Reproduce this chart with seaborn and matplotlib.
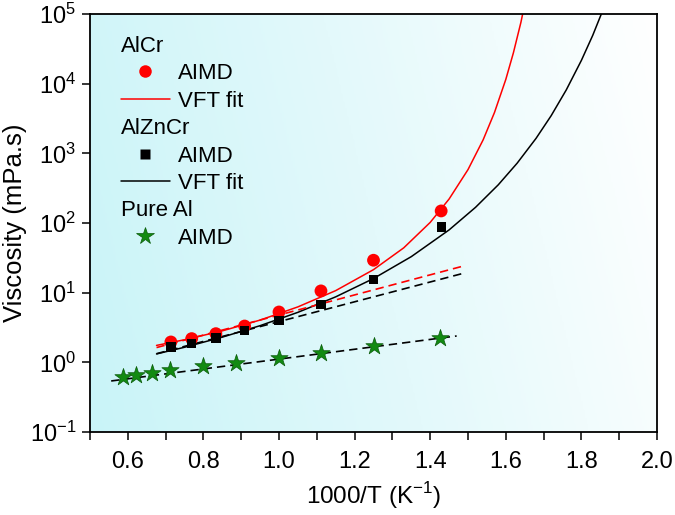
import numpy as np
import pandas as pd
import matplotlib
matplotlib.use('Agg')
import matplotlib.pyplot as plt
import seaborn as sns
from matplotlib.lines import Line2D
from matplotlib.colors import LinearSegmentedColormap
from matplotlib.ticker import FixedLocator, MultipleLocator, NullLocator

# AIMD viscosities (mPa.s) against 1000/T (K^-1)
x_alloy = [0.714, 0.769, 0.833, 0.909, 1.0, 1.111, 1.25, 1.429]
visc_alcr = [1.96, 2.19, 2.58, 3.32, 5.28, 10.6, 29.2, 149]
visc_alzncr = [1.66, 1.85, 2.23, 2.88, 4.01, 6.75, 15.6, 88]
x_al = [0.586, 0.623, 0.663, 0.712, 0.800, 0.886, 1.0, 1.111, 1.25, 1.426]
visc_al = [0.615, 0.665, 0.711, 0.767, 0.877, 0.99, 1.17, 1.36, 1.70, 2.26]

# VFT fit curves
x_vft_alcr = [0.676, 0.75, 0.85, 0.95, 1.05, 1.15, 1.25, 1.33, 1.40,
              1.45, 1.50, 1.54, 1.57, 1.60, 1.62, 1.64, 1.66]
y_vft_alcr = [1.75, 2.11, 2.83, 4.04, 6.25, 10.7, 21.4, 44.0, 102,
              221, 584, 1560, 3850, 11500, 27600, 76000, 253000]
x_vft_alzncr = [0.676, 0.75, 0.85, 0.95, 1.05, 1.15, 1.25, 1.35, 1.45,
                1.52, 1.58, 1.63, 1.68, 1.72, 1.76, 1.80, 1.83, 1.86]
y_vft_alzncr = [1.32, 1.645, 2.30, 3.36, 5.22, 8.71, 15.95, 32.9, 79.6,
                168, 353, 722, 1640, 3470, 8140, 21600, 49400, 125500]

# Arrhenius fits (dashed), end points
x_arr_alcr = [0.676, 1.485]
y_arr_alcr = [1.63, 23.9]
x_arr_alzncr = [0.676, 1.485]
y_arr_alzncr = [1.33, 18.8]
x_arr_al = [0.556, 1.47]
y_arr_al = [0.54, 2.39]

sns.set_theme(style='white')
plt.rcParams['font.family'] = ['Liberation Sans', 'DejaVu Sans']
plt.rcParams['mathtext.fontset'] = 'custom'
plt.rcParams['mathtext.rm'] = 'Liberation Sans'
for k in ['text.color', 'axes.labelcolor', 'xtick.color', 'ytick.color']:
    plt.rcParams[k] = 'black'

fig = plt.figure(figsize=(6.75, 5.15), dpi=100)
ax = fig.add_axes([90/675, 1 - 432/515, 567/675, 418/515])

# background gradient: light cyan on the left fading to white
cmap = LinearSegmentedColormap.from_list('bg', ['#c9f4f8', '#e3f9fb', '#ffffff'])
gx, gy = np.meshgrid(np.linspace(0, 1, 300), np.linspace(0, 1, 200))
grad = np.clip(0.85 * gx + 0.15 * gy, 0, 1)
ax.imshow(grad, cmap=cmap, extent=[0, 1, 0, 1], transform=ax.transAxes,
          aspect='auto', origin='lower', zorder=0, interpolation='bilinear')

green = '#128a12'

sns.lineplot(x=x_vft_alcr, y=y_vft_alcr, color='red', lw=1.1, ax=ax,
             sort=False, estimator=None, zorder=2)
sns.lineplot(x=x_vft_alzncr, y=y_vft_alzncr, color='black', lw=1.1, ax=ax,
             sort=False, estimator=None, zorder=2)
for xs, ys, c in [(x_arr_alcr, y_arr_alcr, 'red'),
                  (x_arr_alzncr, y_arr_alzncr, 'black'),
                  (x_arr_al, y_arr_al, 'black')]:
    sns.lineplot(x=xs, y=ys, color=c, lw=1.2, linestyle=(0, (5, 3)), ax=ax,
                 sort=False, estimator=None, zorder=2)

sns.scatterplot(x=x_alloy, y=visc_alcr, marker='o', s=85, color='red',
                edgecolor='none', ax=ax, zorder=4)
sns.scatterplot(x=x_alloy, y=visc_alzncr, marker='s', s=45, color='black',
                edgecolor='none', ax=ax, zorder=4)
sns.scatterplot(x=x_al, y=visc_al, marker='*', s=170, color=green,
                edgecolor='#0a5a0a', linewidth=0.5, ax=ax, zorder=4)

ax.set_yscale('log')
ax.set_xlim(0.5, 2.0)
ax.set_ylim(1e-1, 1e5)
ax.xaxis.set_major_locator(MultipleLocator(0.2))
ax.xaxis.set_minor_locator(MultipleLocator(0.1))
ax.yaxis.set_major_locator(FixedLocator([10.0**k for k in range(-1, 6)]))
ax.yaxis.set_minor_locator(NullLocator())
ax.tick_params(which='both', direction='out', length=6, width=1.1,
               labelsize=17, bottom=True, left=True,
               top=False, right=False, pad=4)
ax.tick_params(axis='x', pad=8)
for sp in ax.spines.values():
    sp.set_color('black')
    sp.set_linewidth(1.3)

ax.set_xlabel('1000/T (K$^{-1}$)', fontsize=17.5, labelpad=5)
ax.set_ylabel('Viscosity (mPa.s)', fontsize=18.5, labelpad=2)

# grouped legend
blank = Line2D([], [], linestyle='none')
handles = [
    blank,
    Line2D([], [], linestyle='none', marker='o', color='red', ms=9, mec='none'),
    Line2D([], [], color='red', lw=1.1),
    blank,
    Line2D([], [], linestyle='none', marker='s', color='black', ms=6.5, mec='none'),
    Line2D([], [], color='black', lw=1.1),
    blank,
    Line2D([], [], linestyle='none', marker='*', color=green, ms=13,
           mec='#0a5a0a', mew=0.5),
]
labels = ['AlCr', 'AIMD', 'VFT fit', 'AlZnCr', 'AIMD', 'VFT fit', 'Pure Al', 'AIMD']
fs = 16
hl, htp = 2.2, 0.36
leg = ax.legend(handles, labels, loc='upper left', bbox_to_anchor=(0.054, 0.948),
                frameon=False, handlelength=hl, handletextpad=htp,
                labelspacing=0.29, borderpad=0, borderaxespad=0,
                prop={'family': ['Liberation Sans', 'DejaVu Sans'], 'size': fs})
shift = (hl + htp) * fs * fig.dpi / 72
for i in (0, 3, 6):
    leg.get_texts()[i].set_position((-shift, 0))

fig.savefig('out.png', dpi=100)
